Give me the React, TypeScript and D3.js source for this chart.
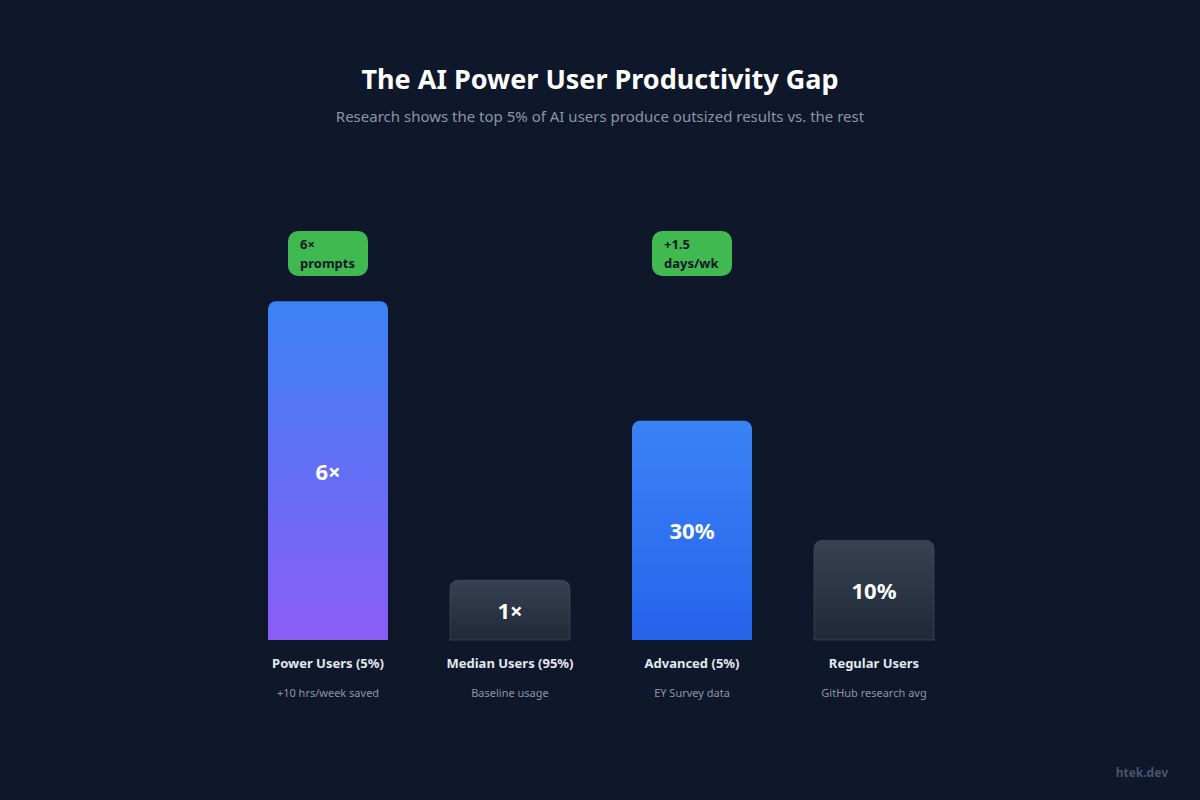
import * as d3 from "d3"

// bar data
const groups = ["Power Users (5%)", "Median Users (95%)", "Advanced (5%)", "Regular Users"]
const notes = ["+10 hrs/week saved", "Baseline usage", "EY Survey data", "GitHub research avg"]
const valueLabels = ["6×", "1×", "30%", "10%"]
// bar height as share of the plot area (%)
const heightPct = [85, 15, 55, 25]
const styles = ["purple", "gray", "blue", "gray"]
// callout badges above some bars
const badgeLines: (string[] | null)[] = [["6×", "prompts"], null, ["+1.5", "days/wk"], null]

const W = 1200
const H = 800
const font = "'Noto Sans', 'Open Sans', sans-serif"

function topRounded(x: number, y: number, w: number, h: number, r: number) {
  const p = d3.path()
  p.moveTo(x, y + h)
  p.lineTo(x, y + r)
  p.arcTo(x, y, x + r, y, r)
  p.lineTo(x + w - r, y)
  p.arcTo(x + w, y, x + w, y + r, r)
  p.lineTo(x + w, y + h)
  p.closePath()
  return p.toString()
}

export default function App() {
  const xScale = d3.scalePoint<string>().domain(groups).range([328, 874])
  const yScale = d3.scaleLinear().domain([0, 100]).range([640, 241.5])
  const barW = 120

  return (
    <svg width={W} height={H} style={{ display: "block", position: "absolute", left: 0, top: 0 }}>
      <defs>
        <linearGradient id="g-purple" x1="0" y1="0" x2="0" y2="1">
          <stop offset="0%" stopColor="#3b82f6" />
          <stop offset="100%" stopColor="#8b5cf6" />
        </linearGradient>
        <linearGradient id="g-blue" x1="0" y1="0" x2="0" y2="1">
          <stop offset="0%" stopColor="#3b82f6" />
          <stop offset="100%" stopColor="#2563eb" />
        </linearGradient>
        <linearGradient id="g-gray" x1="0" y1="0" x2="0" y2="1">
          <stop offset="0%" stopColor="#374151" />
          <stop offset="100%" stopColor="#1f2937" />
        </linearGradient>
      </defs>
      <rect width={W} height={H} fill="#0f172a" />

      <text x={600} y={89} textAnchor="middle" fill="#ffffff" fontFamily={font} fontWeight={700} fontSize={27}>
        The AI Power User Productivity Gap
      </text>
      <text x={600} y={122} textAnchor="middle" fill="#8b95a7" fontFamily={font} fontSize={15}>
        Research shows the top 5% of AI users produce outsized results vs. the rest
      </text>

      {groups.map((g, i) => {
        const cx = xScale(g) ?? 0
        const top = yScale(heightPct[i])
        const h = yScale(0) - top
        const isGray = styles[i] === "gray"
        const badge = badgeLines[i]
        return (
          <g key={g}>
            <path
              d={topRounded(cx - barW / 2, top, barW, h, 8)}
              fill={`url(#g-${styles[i]})`}
              stroke={isGray ? "#4b5563" : "none"}
              strokeOpacity={0.6}
              strokeWidth={1}
            />
            <text
              x={cx}
              y={top + h / 2}
              textAnchor="middle"
              dominantBaseline="central"
              fill="#ffffff"
              fontFamily={font}
              fontWeight={700}
              fontSize={22}
            >
              {valueLabels[i]}
            </text>
            {badge && (
              <g>
                <rect x={cx - 40} y={231} width={80} height={45} rx={10} fill="#3fb950" />
                {badge.map((line, j) => (
                  <text
                    key={j}
                    x={cx - 28}
                    y={249 + j * 19}
                    fill="#0f172a"
                    fontFamily={font}
                    fontWeight={700}
                    fontSize={13}
                  >
                    {line}
                  </text>
                ))}
              </g>
            )}
            <text x={cx} y={668} textAnchor="middle" fill="#e2e8f0" fontFamily={font} fontWeight={700} fontSize={13}>
              {g}
            </text>
            <text x={cx} y={697} textAnchor="middle" fill="#8b95a7" fontFamily={font} fontSize={11}>
              {notes[i]}
            </text>
          </g>
        )
      })}

      <text x={1168} y={777} textAnchor="end" fill="#475569" fontFamily={font} fontWeight={700} fontSize={12}>
        htek.dev
      </text>
    </svg>
  )
}
